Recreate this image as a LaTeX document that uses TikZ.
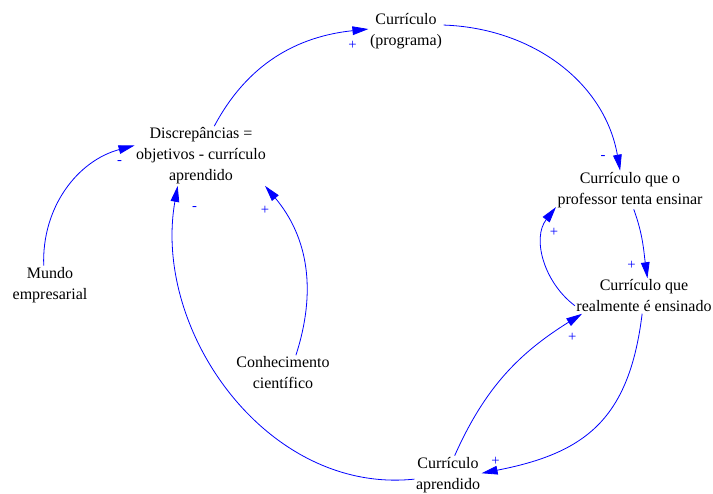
\documentclass[tikz,border=0pt]{standalone}
\usepackage{fontspec}
\setmainfont{Liberation Serif}
\usetikzlibrary{arrows.meta}

\begin{document}
\begin{tikzpicture}[x=0.75pt,y=0.75pt]
  \useasboundingbox (0,0) rectangle (713,493);

      \begin{scope}[every node/.style={align=center,inner sep=1pt,font=\fontsize{12}{15.75}\selectfont}]
        \node (prog) at (406,462) {Currículo\\(programa)};
        \node (disc) at (201,337) {Discrepâncias =\\objetivos - currículo\\aprendido};
        \node (tenta) at (630,303) {Currículo que o\\professor tenta ensinar};
        \node (ensinado) at (644,197) {Currículo que\\realmente é ensinado};
        \node (mundo) at (50,208) {Mundo\\empresarial};
        \node (conhec) at (283,120) {Conhecimento\\científico};
        \node (aprend) at (448,18) {Currículo\\aprendido};
      \end{scope}

      \begin{scope}[every node/.style={text=blue,inner sep=0pt,font=\fontsize{11}{13}\selectfont}]

        \begin{scope}[every edge/.style={draw=blue,line width=0.6pt,-{Triangle[length=12pt,width=6.5pt]}}]
          \path (disc.66) edge[out=62,in=186] node[pos=1,shift={(-16,-16)}] (s1) {+} (prog.177);
          \path (prog.9) edge[out=-2,in=100] node[pos=1,shift={(-17,13)}] (s2) {-} (tenta.117);
          \path (tenta.281) edge[out=-70,in=98] node[pos=1,shift={(-16,13)}] (s3) {+} (ensinado.79);
          \path (ensinado.188) edge[out=143,in=232] node[pos=1,shift={(-2,-25)}] (s4) {+} (tenta.193);
          \path (ensinado.264) edge[out=263,in=11,looseness=1.2] node[pos=1,shift={(14,12)}] (s5) {+} (aprend.3);
          \path (aprend.71) edge[out=66,in=212] node[pos=1,shift={(-10,-24)}] (s6) {+} (ensinado.196);
          \path (aprend.187) edge[out=186,in=260] node[pos=1,shift={(17,-23)}] (s7) {-} (disc.232);
          \path (mundo.108) edge[out=92,in=195] node[pos=1,shift={(-15,-17)}] (s8) {-} (disc.171);
          \path (conhec.54) edge[out=72,in=310] node[pos=1,shift={(0,-24)}] (s9) {+} (disc.335);
        \end{scope}

      \end{scope}

    \end{tikzpicture}
\end{document}
